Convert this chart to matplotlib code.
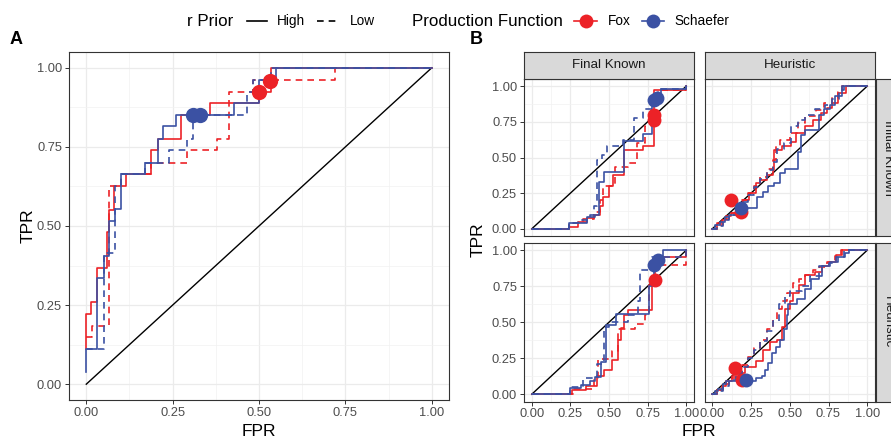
#!/usr/bin/env python3

import matplotlib
matplotlib.use("Agg")
import matplotlib.pyplot as plt
from matplotlib.lines import Line2D

plt.rcParams['font.family'] = ['Liberation Sans', 'DejaVu Sans']

RED = "#EC2227"
BLUE = "#3B51A3"

# ---- panel A : ROC points (FPR, TPR) ----
a_fox_high = [(0, 0.11), (0, 0.223), (0.013, 0.261), (0.031, 0.368), (0.059, 0.48), (0.067, 0.55),
              (0.081, 0.626), (0.115, 0.663), (0.1875, 0.739), (0.207, 0.776), (0.274, 0.852),
              (0.359, 0.888), (0.50, 0.925), (0.535, 1.0), (1.0, 1.0)]
a_fox_low = [(0, 0.148), (0.018, 0.185), (0.065, 0.626), (0.10, 0.663), (0.1875, 0.70), (0.292, 0.739),
             (0.378, 0.776), (0.414, 0.925), (0.484, 0.961), (0.72, 1.0), (1.0, 1.0)]
a_sch_high = [(0, 0.04), (0, 0.11), (0.031, 0.336), (0.05, 0.405), (0.067, 0.517), (0.084, 0.553),
              (0.10, 0.663), (0.17, 0.70), (0.207, 0.776), (0.221, 0.815), (0.26, 0.852),
              (0.429, 0.888), (0.50, 0.961), (0.55, 1.0), (1.0, 1.0)]
a_sch_low = [(0, 0.11), (0.05, 0.415), (0.084, 0.626), (0.10, 0.663), (0.17, 0.70), (0.24, 0.739),
             (0.292, 0.776), (0.308, 0.852), (0.466, 0.925), (0.484, 0.961), (0.535, 1.0), (1.0, 1.0)]
a_fox_pts = [(0.50, 0.925), (0.533, 0.959)]
a_sch_pts = [(0.309, 0.852), (0.329, 0.852)]

# ---- panel B : Final Known x Initial Known ----
fk_ik_fox_high = [(0, 0), (0.24, 0.016), (0.30, 0.05), (0.36, 0.074), (0.40, 0.10), (0.44, 0.16),
                  (0.46, 0.226), (0.50, 0.30), (0.527, 0.377), (0.60, 0.45), (0.60, 0.55),
                  (0.72, 0.58), (0.79, 0.97), (1.0, 1.0)]
fk_ik_fox_low = [(0, 0), (0.24, 0.04), (0.33, 0.07), (0.40, 0.12), (0.44, 0.20), (0.46, 0.30),
                 (0.54, 0.43), (0.62, 0.46), (0.68, 0.60), (0.73, 0.72), (0.78, 0.88), (0.82, 0.97),
                 (1.0, 1.0)]
fk_ik_sch_high = [(0, 0), (0.24, 0.044), (0.356, 0.08), (0.41, 0.10), (0.437, 0.33), (0.469, 0.40),
                  (0.60, 0.616), (0.72, 0.667), (0.78, 0.92), (0.836, 0.98), (1.0, 1.0)]
fk_ik_sch_low = [(0, 0), (0.24, 0.04), (0.30, 0.06), (0.38, 0.10), (0.40, 0.16), (0.42, 0.48),
                 (0.455, 0.52), (0.49, 0.58), (0.59, 0.62), (0.66, 0.78), (0.72, 0.84), (0.78, 0.90),
                 (0.82, 0.98), (1.0, 1.0)]
fk_ik_fox_pts = [(0.79, 0.795), (0.79, 0.76)]
fk_ik_sch_pts = [(0.79, 0.90), (0.81, 0.92)]

# ---- Heuristic x Initial Known ----
h_ik_fox_high = [(0, 0), (0.03, 0.04), (0.06, 0.06), (0.09, 0.09), (0.12, 0.11), (0.16, 0.15),
                 (0.20, 0.20), (0.24, 0.25), (0.28, 0.32), (0.31, 0.34), (0.35, 0.38), (0.39, 0.41),
                 (0.40, 0.55), (0.45, 0.58), (0.51, 0.61), (0.54, 0.67), (0.60, 0.72), (0.65, 0.76),
                 (0.70, 0.81), (0.74, 0.85), (0.77, 0.88), (0.81, 0.95), (0.86, 1.0), (1.0, 1.0)]
h_ik_fox_low = [(0, 0), (0.03, 0.03), (0.07, 0.07), (0.11, 0.11), (0.15, 0.15), (0.19, 0.20),
                (0.23, 0.25), (0.27, 0.30), (0.31, 0.36), (0.35, 0.42), (0.39, 0.48), (0.41, 0.58),
                (0.44, 0.62), (0.50, 0.67), (0.55, 0.74), (0.60, 0.79), (0.67, 0.83), (0.72, 0.88),
                (0.77, 0.92), (0.81, 0.96), (0.84, 1.0), (1.0, 1.0)]
h_ik_sch_high = [(0, 0), (0.02, 0.03), (0.05, 0.05), (0.08, 0.08), (0.11, 0.10), (0.15, 0.12),
                 (0.19, 0.145), (0.29, 0.226), (0.325, 0.26), (0.36, 0.30), (0.40, 0.32),
                 (0.44, 0.39), (0.47, 0.42), (0.55, 0.54), (0.57, 0.66), (0.60, 0.69), (0.69, 0.80),
                 (0.72, 0.84), (0.76, 0.87), (0.795, 0.93), (0.84, 1.0), (1.0, 1.0)]
h_ik_sch_low = [(0, 0), (0.03, 0.02), (0.07, 0.06), (0.11, 0.10), (0.15, 0.14), (0.19, 0.19),
                (0.23, 0.24), (0.27, 0.29), (0.31, 0.35), (0.35, 0.41), (0.39, 0.47), (0.42, 0.56),
                (0.46, 0.60), (0.51, 0.72), (0.55, 0.76), (0.60, 0.80), (0.66, 0.84), (0.73, 0.87),
                (0.77, 0.91), (0.82, 0.97), (0.85, 1.0), (1.0, 1.0)]
h_ik_fox_pts = [(0.12, 0.20), (0.186, 0.12)]
h_ik_sch_pts = [(0.186, 0.145)]

# ---- Final Known x Heuristic ----
fk_h_fox_high = [(0, 0), (0.26, 0.03), (0.35, 0.06), (0.42, 0.13), (0.47, 0.17), (0.52, 0.24),
                 (0.56, 0.38), (0.58, 0.46), (0.60, 0.55), (0.62, 0.586), (0.78, 0.80), (0.80, 0.95),
                 (1.0, 1.0)]
fk_h_fox_low = [(0, 0), (0.27, 0.04), (0.40, 0.10), (0.43, 0.243), (0.52, 0.30), (0.56, 0.45),
                (0.67, 0.49), (0.73, 0.55), (0.76, 0.76), (0.79, 0.90), (1.0, 1.0)]
fk_h_sch_high = [(0, 0), (0.25, 0.046), (0.32, 0.065), (0.38, 0.09), (0.41, 0.12), (0.446, 0.227),
                 (0.48, 0.447), (0.48, 0.48), (0.548, 0.556), (0.76, 0.75), (0.79, 0.90), (0.85, 1.0),
                 (1.0, 1.0)]
fk_h_sch_low = [(0, 0), (0.25, 0.05), (0.33, 0.11), (0.42, 0.21), (0.467, 0.47), (0.50, 0.50),
                (0.62, 0.55), (0.69, 0.65), (0.70, 0.86), (0.78, 0.95), (1.0, 1.0)]
fk_h_fox_pts = [(0.80, 0.79)]
fk_h_sch_pts = [(0.79, 0.90), (0.82, 0.93)]

# ---- Heuristic x Heuristic ----
h_h_fox_high = [(0, 0), (0.03, 0.03), (0.06, 0.06), (0.09, 0.09), (0.13, 0.125), (0.17, 0.15),
                (0.21, 0.19), (0.28, 0.23), (0.33, 0.31), (0.37, 0.36), (0.42, 0.38), (0.45, 0.47),
                (0.47, 0.59), (0.50, 0.65), (0.52, 0.70), (0.56, 0.76), (0.60, 0.83), (0.66, 0.85),
                (0.705, 0.89), (0.75, 0.92), (0.80, 0.97), (0.84, 1.0), (1.0, 1.0)]
h_h_fox_low = [(0, 0), (0.03, 0.03), (0.07, 0.07), (0.11, 0.11), (0.15, 0.15), (0.19, 0.20),
               (0.23, 0.26), (0.27, 0.32), (0.31, 0.38), (0.35, 0.45), (0.39, 0.52), (0.42, 0.59),
               (0.45, 0.65), (0.48, 0.70), (0.52, 0.77), (0.56, 0.80), (0.60, 0.83), (0.65, 0.86),
               (0.69, 0.88), (0.74, 0.92), (0.79, 0.96), (0.83, 1.0), (1.0, 1.0)]
h_h_sch_high = [(0, 0), (0.02, 0.02), (0.04, 0.04), (0.07, 0.07), (0.09, 0.09), (0.28, 0.11),
                (0.32, 0.125), (0.34, 0.17), (0.36, 0.22), (0.385, 0.29), (0.41, 0.33), (0.44, 0.38),
                (0.46, 0.45), (0.48, 0.55), (0.49, 0.63), (0.545, 0.66), (0.60, 0.73), (0.64, 0.80),
                (0.69, 0.82), (0.705, 0.89), (0.76, 0.92), (0.81, 0.95), (0.855, 0.98), (0.88, 1.0),
                (1.0, 1.0)]
h_h_sch_low = [(0, 0), (0.03, 0.02), (0.07, 0.06), (0.11, 0.10), (0.15, 0.14), (0.19, 0.19),
               (0.23, 0.25), (0.27, 0.31), (0.31, 0.37), (0.35, 0.44), (0.39, 0.51), (0.43, 0.63),
               (0.47, 0.68), (0.50, 0.72), (0.58, 0.75), (0.63, 0.82), (0.69, 0.89), (0.75, 0.91),
               (0.80, 0.95), (0.85, 1.0), (1.0, 1.0)]
h_h_fox_pts = [(0.145, 0.18), (0.19, 0.10)]
h_h_sch_pts = [(0.22, 0.10)]

TICKS = [0, 0.25, 0.5, 0.75, 1.0]
TICK_LABELS = ["0.00", "0.25", "0.50", "0.75", "1.00"]
COL_NAMES = ["Final Known", "Heuristic"]
ROW_NAMES = ["Initial Known", "Heuristic"]

W, H = 891, 441
fig = plt.figure(figsize=(W / 100, H / 100), dpi=100)


def px_box(x0, y0, x1, y1):
    # pixel box (top-left origin) -> figure fraction rect
    return [x0 / W, 1 - y1 / H, (x1 - x0) / W, (y1 - y0) / H]


def style(ax, xlab=True, ylab=True, fs=9.3):
    ax.set_xlim(-0.05, 1.05)
    ax.set_ylim(-0.05, 1.05)
    ax.set_xticks(TICKS)
    ax.set_yticks(TICKS)
    ax.set_xticks([0.125, 0.375, 0.625, 0.875], minor=True)
    ax.set_yticks([0.125, 0.375, 0.625, 0.875], minor=True)
    ax.set_xticklabels(TICK_LABELS if xlab else [])
    ax.set_yticklabels(TICK_LABELS if ylab else [])
    ax.grid(which="major", color="#EBEBEB", lw=0.9)
    ax.grid(which="minor", color="#F2F2F2", lw=0.5)
    ax.set_axisbelow(True)
    for s in ax.spines.values():
        s.set_color("#333333")
        s.set_linewidth(0.8)
    ax.tick_params(which="major", width=0.7, color="#333333",
                   labelcolor="#4D4D4D", labelsize=fs, pad=2)
    ax.tick_params(axis="x", length=3 if xlab else 0)
    ax.tick_params(axis="y", length=3 if ylab else 0)
    ax.tick_params(which="minor", length=0)


def draw_curve(ax, pts, color, dashed):
    fpr = [p[0] for p in pts]
    tpr = [p[1] for p in pts]
    ax.plot(fpr, tpr, drawstyle="steps-post", color=color, lw=1.2,
            linestyle=(0, (4, 3)) if dashed else "-")


def draw_panel(ax, fox_high, fox_low, sch_high, sch_low, fox_pts, sch_pts, ms):
    ax.plot([0, 1], [0, 1], color="black", lw=1.0)
    draw_curve(ax, fox_high, RED, False)
    draw_curve(ax, fox_low, RED, True)
    draw_curve(ax, sch_high, BLUE, False)
    draw_curve(ax, sch_low, BLUE, True)
    ax.plot([p[0] for p in fox_pts], [p[1] for p in fox_pts], "o", color=RED, ms=ms, mec="none")
    ax.plot([p[0] for p in sch_pts], [p[1] for p in sch_pts], "o", color=BLUE, ms=ms, mec="none")


# ---- panel A ----
axA = fig.add_axes(px_box(69, 52, 449, 400))
style(axA)
draw_panel(axA, a_fox_high, a_fox_low, a_sch_high, a_sch_low, a_fox_pts, a_sch_pts, 11)
fig.text(259 / W, 1 - 432 / H, "FPR", ha="center", va="center", fontsize=12.5)
fig.text(28 / W, 1 - 226 / H, "TPR", ha="center", va="center", fontsize=12.5, rotation=90)

# ---- panel B ----
col_x = [(524, 694), (704.5, 875)]
row_y = [(79, 236), (243, 401.5)]
facet_data = [
    [(fk_ik_fox_high, fk_ik_fox_low, fk_ik_sch_high, fk_ik_sch_low, fk_ik_fox_pts, fk_ik_sch_pts),
     (h_ik_fox_high, h_ik_fox_low, h_ik_sch_high, h_ik_sch_low, h_ik_fox_pts, h_ik_sch_pts)],
    [(fk_h_fox_high, fk_h_fox_low, fk_h_sch_high, fk_h_sch_low, fk_h_fox_pts, fk_h_sch_pts),
     (h_h_fox_high, h_h_fox_low, h_h_sch_high, h_h_sch_low, h_h_fox_pts, h_h_sch_pts)],
]
for r in range(2):
    for c in range(2):
        ax = fig.add_axes(px_box(col_x[c][0], row_y[r][0], col_x[c][1], row_y[r][1]))
        style(ax, xlab=(r == 1), ylab=(c == 0))
        draw_panel(ax, *facet_data[r][c], 10)

for c in range(2):
    sax = fig.add_axes(px_box(col_x[c][0], 52.5, col_x[c][1], 78.5))
    sax.set_facecolor("#D9D9D9")
    sax.set_xticks([])
    sax.set_yticks([])
    for s in sax.spines.values():
        s.set_color("#333333")
        s.set_linewidth(0.8)
    sax.text(0.5, 0.5, COL_NAMES[c], ha="center", va="center", fontsize=9.6,
             color="#1A1A1A", transform=sax.transAxes)

# row strips run past the right edge, as in the original
for r in range(2):
    sax = fig.add_axes(px_box(875.5, row_y[r][0], 900, row_y[r][1]))
    sax.set_facecolor("#D9D9D9")
    sax.set_xticks([])
    sax.set_yticks([])
    for s in sax.spines.values():
        s.set_color("#333333")
        s.set_linewidth(0.8)
    sax.text(0.5, 0.5, ROW_NAMES[r], ha="center", va="center", fontsize=9.6,
             color="#1A1A1A", rotation=-90, transform=sax.transAxes)

fig.text(699 / W, 1 - 432 / H, "FPR", ha="center", va="center", fontsize=12.5)
fig.text(478 / W, 1 - 240 / H, "TPR", ha="center", va="center", fontsize=12.5, rotation=90)

# panel tags
fig.text(10 / W, 1 - 40 / H, "A", ha="left", va="center", fontsize=13, fontweight="bold")
fig.text(470 / W, 1 - 40 / H, "B", ha="left", va="center", fontsize=13, fontweight="bold")

# ---- legend on top ----
ly = 1 - 21 / H
fig.text(187 / W, ly, "r Prior", ha="left", va="center", fontsize=12.2)
fig.add_artist(Line2D([247 / W, 267 / W], [ly, ly], color="black", lw=1.2))
fig.text(277 / W, ly, "High", ha="left", va="center", fontsize=9.8)
fig.add_artist(Line2D([317 / W, 337 / W], [ly, ly], color="black", lw=1.2, linestyle=(0, (4, 3))))
fig.text(350 / W, ly, "Low", ha="left", va="center", fontsize=9.8)
fig.text(412 / W, ly, "Production Function", ha="left", va="center", fontsize=12.2)
fig.add_artist(Line2D([574 / W, 597 / W], [ly, ly], color=RED, lw=1.2))
fig.add_artist(Line2D([585.5 / W], [ly], color=RED, marker="o", ms=10, mec="none"))
fig.text(608 / W, ly, "Fox", ha="left", va="center", fontsize=9.8)
fig.add_artist(Line2D([642 / W, 664 / W], [ly, ly], color=BLUE, lw=1.2))
fig.add_artist(Line2D([653 / W], [ly], color=BLUE, marker="o", ms=10, mec="none"))
fig.text(674 / W, ly, "Schaefer", ha="left", va="center", fontsize=9.8)

fig.savefig("out.png", dpi=100)
